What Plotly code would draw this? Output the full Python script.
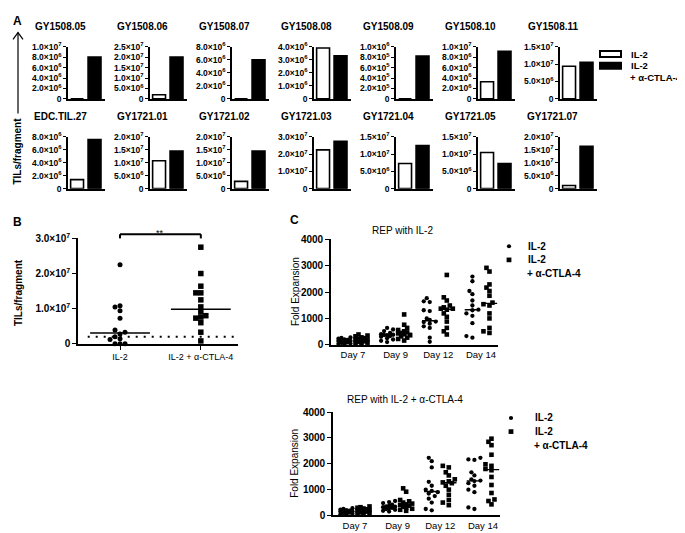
import numpy as np
import plotly.graph_objects as go

W, H = 685, 533
FONT = "Liberation Sans"

# ---------------- Panel A data ----------------
sample_names = ["GY1508.05", "GY1508.06", "GY1508.07", "GY1508.08", "GY1508.09", "GY1508.10", "GY1508.11",
                "EDC.TIL.27", "GY1721.01", "GY1721.02", "GY1721.03", "GY1721.04", "GY1721.05", "GY1721.07"]
tils_il2 = [0, 2.0e6, 0, 3.9e6, 0, 3.3e6, 9.4e6, 1.4e6, 1.08e7, 2.8e6, 2.25e7, 7.3e6, 1.05e7, 1.2e6]
tils_ctla4 = [8.0e6, 2.0e7, 6.0e6, 3.3e6, 8.2e5, 9.1e6, 1.05e7, 7.6e6, 1.45e7, 1.45e7, 2.75e7, 1.25e7, 7.3e6, 1.64e7]
axis_max = [1e7, 2.5e7, 8e6, 4e6, 1e6, 1e7, 1.5e7, 8e6, 2e7, 2e7, 3e7, 1.5e7, 1.5e7, 2e7]
axis_step = [2e6, 5e6, 2e6, 1e6, 2e5, 2e6, 5e6, 2e6, 5e6, 5e6, 1e7, 5e6, 5e6, 5e6]
legend_labels = ["IL-2", "IL-2", "+ α-CTLA-4"]

# ---------------- Panel B data ----------------
b_groups = ["IL-2", "IL-2 + α-CTLA-4"]
b_cutoff = 2.0e6
b_yticks = [0, 1e7, 2e7, 3e7]
b_signif = "**"

# ---------------- Panel C data ----------------
days = ["Day 7", "Day 9", "Day 12", "Day 14"]
c_yticks = [0, 1000, 2000, 3000, 4000]
# REP with IL-2
rep1_il2 = [
    [280, 260, 230, 200, 180, 160, 150, 140, 110, 90, 70, 50, 30, 20],
    [640, 580, 520, 450, 400, 380, 370, 360, 330, 300, 250, 200, 150, 100],
    [1770, 1650, 1620, 1310, 1280, 1000, 940, 880, 860, 800, 700, 640, 270, 110],
    [2590, 2410, 2040, 1920, 1680, 1490, 1330, 1310, 1190, 1100, 820, 330, 270],
]
rep1_ctla4 = [
    [390, 350, 320, 280, 250, 220, 200, 190, 160, 130, 110, 80, 60, 40],
    [1150, 760, 640, 560, 510, 470, 450, 430, 400, 360, 320, 270, 220, 160],
    [2650, 1800, 1680, 1490, 1420, 1370, 1370, 1330, 1190, 1060, 880, 640, 510, 390],
    [2920, 2780, 2290, 2170, 2040, 1860, 1600, 1540, 1490, 1190, 1000, 640, 510, 450],
]
# REP with IL-2 + a-CTLA-4
rep2_il2 = [
    [280, 250, 230, 210, 190, 170, 160, 150, 130, 110, 90, 70, 50, 30],
    [560, 520, 480, 420, 380, 350, 340, 320, 300, 280, 250, 220, 180, 150],
    [2230, 2100, 1860, 1300, 1150, 1000, 950, 900, 850, 750, 650, 500, 250, 200],
    [2230, 2170, 2150, 1670, 1550, 1400, 1350, 1330, 1250, 1150, 1000, 900, 310, 250],
]
rep2_ctla4 = [
    [350, 320, 300, 270, 240, 220, 210, 190, 170, 150, 120, 100, 70, 50],
    [1050, 920, 600, 550, 500, 460, 430, 410, 380, 340, 300, 260, 220, 180],
    [1920, 1860, 1670, 1550, 1400, 1320, 1280, 1250, 1150, 1000, 800, 600, 500, 400],
    [2970, 2850, 2720, 2350, 1980, 1920, 1800, 1750, 1490, 1180, 870, 620, 560, 430],
]


# ---------------- helpers ----------------
def px(x):
    return x / W


def py(y):
    return 1 - y / H


def sci(v):
    if v == 0:
        return "0"
    e = int(np.floor(np.log10(v) + 1e-9))
    m = v / 10 ** e
    return f"{m:.1f}×10<sup>{e}</sup>"


def swarm(vals, px_per_val, px_per_unit, diam, step, max_k):
    """Deterministic GraphPad-like spreading of overlapping points (offsets in axis units)."""
    vals = np.asarray(vals, dtype=float)
    order = np.argsort(vals)
    placed = []
    offs = np.zeros(len(vals))
    cands = [0.0]
    for j in range(1, max_k + 1):
        cands += [-j * step, j * step]
    for idx in order:
        yp = vals[idx] * px_per_val
        best, best_d = 0.0, -1
        for c in cands:
            d = min([np.hypot(c - xp, yp - yq) for yq, xp in placed] + [1e9])
            if d >= diam:
                best = c
                break
            if d > best_d + 0.5:
                best, best_d = c, d
        placed.append((yp, best))
        offs[idx] = best / px_per_unit
    return offs


def names(n):
    return ("x" if n == 1 else f"x{n}"), ("y" if n == 1 else f"y{n}")


def lkey(n, a):
    return a + ("axis" if n == 1 else f"axis{n}")


AX = dict(showgrid=False, zeroline=False, showline=True, linecolor="black", linewidth=1.6,
          tickcolor="black", tickwidth=1.3, fixedrange=True)

fig = go.Figure()
layout = dict(width=W, height=H, margin=dict(l=0, r=0, t=0, b=0), paper_bgcolor="white",
              plot_bgcolor="rgba(0,0,0,0)", showlegend=False,
              font=dict(family=FONT, color="black"))
shapes, ann = [], []


def text(t, x, y, size=10, bold=True, xanchor="center", angle=0, yanchor="middle"):
    ann.append(dict(text=(f"<b>{t}</b>" if bold else t), x=px(x), y=py(y), xref="paper", yref="paper",
                    showarrow=False, xanchor=xanchor, yanchor=yanchor, textangle=angle,
                    font=dict(size=size, family=FONT, color="black")))


# ---------------- Panel A ----------------
text("A", 3, 6, size=12, xanchor="left")
for i in range(14):
    n = i + 1
    xa, ya = names(n)
    row, col = divmod(i, 7)
    x0 = 60 + 82 * col
    top, bot = (32.5, 86) if row == 0 else (125, 178)
    fig.add_trace(go.Bar(x=[0, 1], y=[tils_il2[i], tils_ctla4[i]], width=0.74,
                         marker=dict(color=["white", "black"], line=dict(color="black", width=1.6)),
                         xaxis=xa, yaxis=ya, hoverinfo="skip"))
    layout[lkey(n, "x")] = dict(AX, domain=[px(x0), px(x0 + 37)], range=[-0.52, 1.6], anchor=ya,
                                showticklabels=False, ticks="")
    tv = list(np.arange(0, axis_max[i] + axis_step[i] / 2, axis_step[i]))
    layout[lkey(n, "y")] = dict(AX, domain=[py(bot), py(top)], range=[0, axis_max[i]], anchor=xa,
                                tickvals=tv, ticktext=[sci(v) for v in tv], ticks="outside", ticklen=3,
                                tickfont=dict(size=8.5, family=FONT, weight="bold"))
    text(sample_names[i], x0 - 7.5, 12 if row == 0 else 104, size=10)

# A legend
for k, (fill, yc) in enumerate([("white", 40), ("black", 52)]):
    shapes.append(dict(type="rect", xref="paper", yref="paper", x0=px(592), x1=px(613),
                       y0=py(yc + 3), y1=py(yc - 3), fillcolor=fill, line=dict(color="black", width=2)))
text(legend_labels[0], 621, 40, size=9.5, xanchor="left")
text(legend_labels[1], 621, 52, size=9.5, xanchor="left")
text(legend_labels[2], 620, 64, size=9.5, xanchor="left")

# A arrow + y label
xa_ = px(10)
shapes.append(dict(type="line", xref="paper", yref="paper", x0=xa_, x1=xa_, y0=py(101), y1=py(18),
                   line=dict(color="black", width=1.2)))
shapes.append(dict(type="path", xref="paper", yref="paper",
                   path=f"M {px(5)},{py(25)} L {xa_},{py(18)} L {px(15)},{py(25)}",
                   line=dict(color="black", width=1.2)))
text("TILs/fragment", 10, 140, size=10, angle=-90)

# ---------------- Panel B ----------------
nB = 15
xa, ya = names(nB)
bx0, bx1, btop, bbot = 70, 230, 229, 337
b_left, b_right = -0.52, 1.46
unit_px = (bx1 - bx0) / (b_right - b_left)
vpx = (bbot - btop) / 3e7
text("B", 3, 212, size=12, xanchor="left")
for g, (vals, sym) in enumerate([(tils_il2, "circle"), (tils_ctla4, "square")]):
    offs = swarm(vals, vpx, unit_px, 5.0, 5.0, 3)
    fig.add_trace(go.Scatter(x=g + offs, y=vals, mode="markers", cliponaxis=False,
                             marker=dict(symbol=sym, size=5 if sym == "circle" else 5.5, color="black"),
                             xaxis=xa, yaxis=ya, hoverinfo="skip"))
    med = float(np.median(vals))
    fig.add_trace(go.Scatter(x=[g - 0.37, g + 0.37], y=[med, med], mode="lines",
                             line=dict(color="black", width=1.5), xaxis=xa, yaxis=ya, hoverinfo="skip"))
fig.add_trace(go.Scatter(x=[-0.4, b_right], y=[b_cutoff, b_cutoff], mode="lines",
                         line=dict(color="black", width=2, dash="2px,6px"), xaxis=xa, yaxis=ya,
                         hoverinfo="skip"))
layout[lkey(nB, "x")] = dict(AX, domain=[px(bx0), px(bx1)], range=[b_left, b_right], anchor=ya,
                             tickvals=[0, 1], ticktext=b_groups, ticks="outside", ticklen=4,
                             tickfont=dict(size=9, family=FONT))
layout[lkey(nB, "y")] = dict(AX, domain=[py(bbot), py(btop)], range=[0, 3e7], anchor=xa,
                             tickvals=b_yticks, ticktext=[sci(v) for v in b_yticks], ticks="outside",
                             ticklen=4, tickfont=dict(size=10, family=FONT, weight="bold"))
for (x0_, y0_, x1_, y1_) in [(0, 1.0, 0, 1.04), (0, 1.04, 1, 1.04), (1, 1.04, 1, 1.0)]:
    shapes.append(dict(type="line", xref=xa, yref=f"{ya} domain", x0=x0_, x1=x1_, y0=y0_, y1=y1_,
                       line=dict(color="black", width=2)))
ann.append(dict(text=b_signif, x=0.5, y=1.12, xref=xa, yref=f"{ya} domain", showarrow=False,
                font=dict(size=9, family=FONT, color="black")))
text("TILs/fragment", 10, 285, size=10, angle=-90)

# ---------------- Panel C ----------------
text("C", 280, 210, size=12, xanchor="left")
c_specs = [
    (16, "REP with IL-2", rep1_il2, rep1_ctla4, (323, 490, 230, 338), 221, (501, 518, 237)),
    (17, "REP with IL-2 + α-CTLA-4", rep2_il2, rep2_ctla4, (325, 492, 407, 513), 394, (503, 525, 413)),
]
for n, title, il2_sets, ctla_sets, (cx0, cx1, ctop, cbot), ty, (lmx, ltx, ly) in c_specs:
    xa, ya = names(n)
    c_left, c_right = -0.515, 3.4
    upx = (cx1 - cx0) / (c_right - c_left)
    vp = (cbot - ctop) / 4000
    for d in range(4):
        for sets, sym, dx in [(il2_sets, "circle", -0.2), (ctla_sets, "square", 0.2)]:
            vals = sets[d]
            offs = swarm(vals, vp, upx, 4.2, 3.0, 2)
            fig.add_trace(go.Scatter(x=d + dx + offs, y=vals, mode="markers", cliponaxis=False,
                                     marker=dict(symbol=sym, size=4.3 if sym == "circle" else 4.6,
                                                 color="black"),
                                     xaxis=xa, yaxis=ya, hoverinfo="skip"))
            med = float(np.median(vals))
            fig.add_trace(go.Scatter(x=[d + dx - 0.18, d + dx + 0.18], y=[med, med], mode="lines",
                                     line=dict(color="black", width=1.4), xaxis=xa, yaxis=ya,
                                     hoverinfo="skip"))
    layout[lkey(n, "x")] = dict(AX, domain=[px(cx0), px(cx1)], range=[c_left, c_right], anchor=ya,
                                tickvals=[0, 1, 2, 3], ticktext=days, ticks="", ticklen=0,
                                tickfont=dict(size=9.5, family=FONT))
    layout[lkey(n, "y")] = dict(AX, domain=[py(cbot), py(ctop)], range=[0, 4000], anchor=xa,
                                tickvals=c_yticks, ticktext=[str(v) for v in c_yticks], ticks="outside",
                                ticklen=4, tickfont=dict(size=10, family=FONT, weight="bold"))
    text(title, (cx0 + cx1) / 2 - 12, ty, size=10, bold=False)
    text("Fold Expansion", 287, (ctop + cbot) / 2, size=10, bold=False, angle=-90)
    # legend
    r = 2.1
    shapes.append(dict(type="circle", xref="paper", yref="paper", x0=px(lmx - r), x1=px(lmx + r),
                       y0=py(ly + r), y1=py(ly - r), fillcolor="black", line=dict(width=0)))
    s = 2.4
    shapes.append(dict(type="rect", xref="paper", yref="paper", x0=px(lmx - s), x1=px(lmx + s),
                       y0=py(ly + 14 + s), y1=py(ly + 14 - s), fillcolor="black", line=dict(width=0)))
    text(legend_labels[0], ltx, ly, size=10, xanchor="left")
    text(legend_labels[1], ltx, ly + 14, size=10, xanchor="left")
    text(legend_labels[2], ltx - 1, ly + 28, size=10, xanchor="left")

layout["shapes"] = shapes
layout["annotations"] = ann
fig.update_layout(**layout)
fig.write_html("out.html")
